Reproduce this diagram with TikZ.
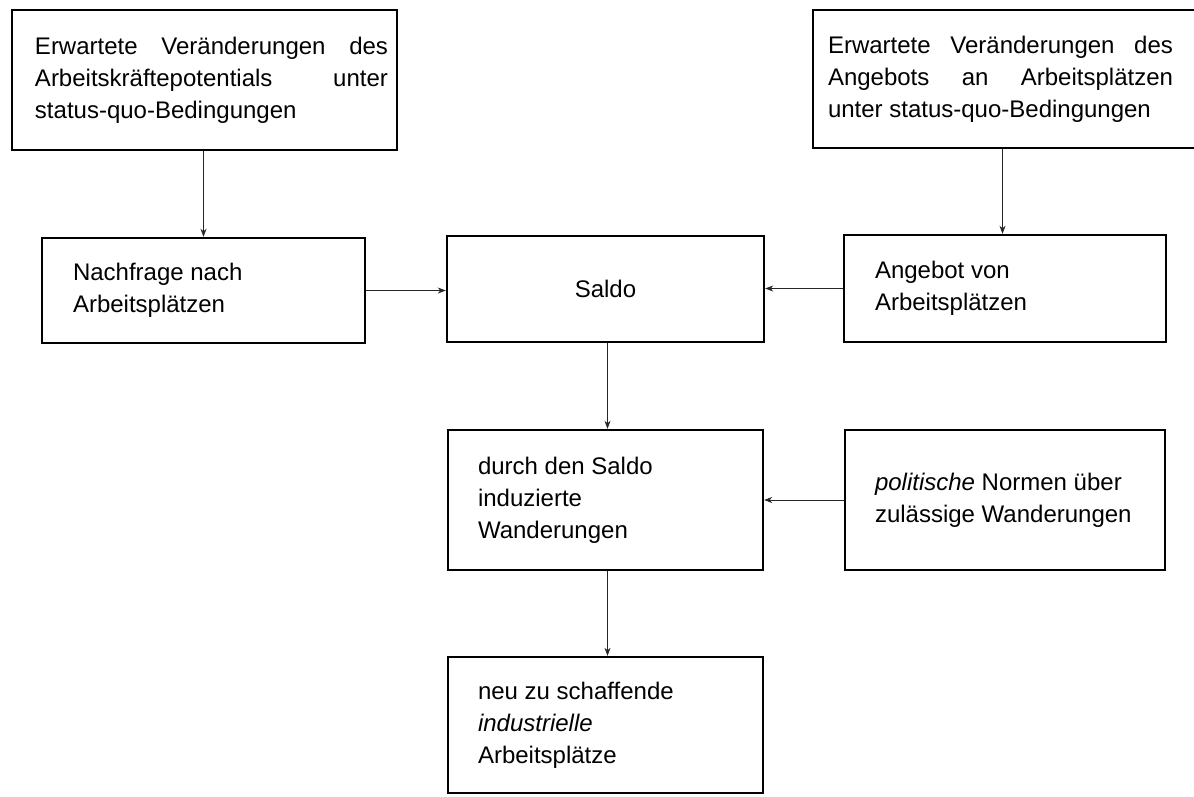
\documentclass[tikz,border=0pt]{standalone}
\usepackage{fontspec}
\setmainfont{Liberation Sans}
\usetikzlibrary{arrows.meta}
\newcommand{\boxtxt}[4]{\hspace*{#1pt}\parbox[c]{#2pt}{\raggedright #4}\hspace*{#3pt}}
\newcommand{\jline}[1]{\makebox[\linewidth][s]{#1}}
\tikzset{
  blk/.style={draw=black, line width=2.4pt, inner sep=0pt, align=left,
    font=\fontsize{24}{32}\selectfont},
  conn/.style={draw=black!85, line width=0.8pt,
    -{Stealth[length=8pt,width=6pt,inset=2.5pt]}}
}
\begin{document}
\begin{tikzpicture}[x=1pt,y=-1pt]
\useasboundingbox (0,0) rectangle (1194,796);
\clip (0,0) rectangle (1194,796);
\node[blk, minimum width=385pt, minimum height=140pt] (erw1) at (204.5,80)
  {\boxtxt{23}{353}{9}{\jline{Erwartete Veränderungen des}\\
   \jline{Arbeitskräftepotentials unter}\\
   status-quo-Bedingungen}};
\node[blk, minimum width=387pt, minimum height=138pt] (erw2) at (1006.5,79)
  {\boxtxt{15}{345}{27}{\jline{Erwartete Veränderungen des}\\
   \jline{Angebots an Arbeitsplätzen}\\
   unter status-quo-Bedingungen}};
\node[blk, minimum width=323pt, minimum height=105pt] (nach) at (203.5,290.5)
  {\boxtxt{31}{260}{32}{Nachfrage nach\\Arbeitsplätzen}};
\node[blk, minimum width=317pt, minimum height=106pt] (saldo) at (605.5,289)
  {Saldo};
\node[blk, minimum width=322pt, minimum height=107pt] (ang) at (1005,288.5)
  {\boxtxt{31}{260}{31}{Angebot von\\Arbeitsplätzen}};
\node[blk, minimum width=315pt, minimum height=140pt] (durch) at (605.5,500)
  {\boxtxt{30}{255}{30}{durch den Saldo\\induzierte\\Wanderungen}};
\node[blk, minimum width=320pt, minimum height=140pt] (pol) at (1005,500)
  {\boxtxt{30}{268}{22}{\textit{politische} Normen über\\zulässige Wanderungen}};
\node[blk, minimum width=315pt, minimum height=136pt] (neu) at (605.5,725)
  {\boxtxt{30}{255}{30}{neu zu schaffende\\\textit{industrielle}\\Arbeitsplätze}};
\draw[conn] (erw1.south -| nach.north) -- (nach.north);
\draw[conn] ([xshift=-4pt]erw2.south) -- ([xshift=-4pt]erw2.south |- ang.north);
\draw[conn] (nach.east) -- (nach.east -| saldo.west);
\draw[conn] (ang.west) -- (ang.west -| saldo.east);
\draw[conn] ([xshift=2pt]saldo.south) -- ([xshift=2pt]durch.north);
\draw[conn] (pol.west) -- (pol.west -| durch.east);
\draw[conn] ([xshift=2pt]durch.south) -- ([xshift=2pt]neu.north);
\end{tikzpicture}
\end{document}
